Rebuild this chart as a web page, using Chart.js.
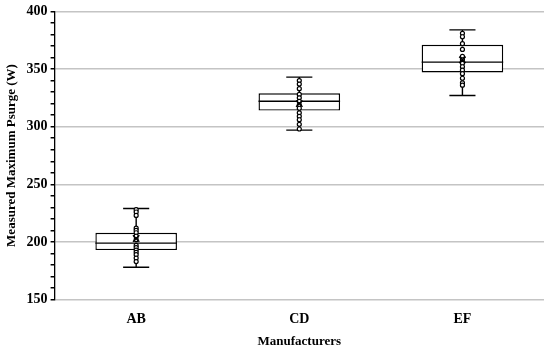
<!DOCTYPE html>
<html>
<head>
<meta charset="utf-8">
<script src="https://cdn.jsdelivr.net/npm/chart.js@4.4.0/dist/chart.umd.min.js"></script>
<style>
  html, body { margin: 0; padding: 0; background: #fff; }
  #wrap { width: 550px; height: 351px; }
</style>
</head>
<body>
<div id="wrap"><canvas id="chart"></canvas></div>
<script>
// categories
var manufacturers = ["AB", "CD", "EF"];

// box stats per manufacturer
var whiskerMin = [178, 297, 327];
var q1 = [193, 314, 347];
var median = [199, 322, 356];
var q3 = [208, 329, 371];
var whiskerMax = [229, 343, 384];
var means = [203, 320, 358];

// individual measurements
var pointsAB = [228, 226, 223, 212, 210, 208, 205, 202, 197, 195, 193, 191, 189, 186, 183];
var pointsCD = [340, 337, 333, 328, 325, 322, 319, 316, 312, 309, 306, 302, 298];
var pointsEF = [381, 378, 372, 367, 361, 358, 355, 352, 349, 346, 342, 338, 336];

var yTicks = [150, 200, 250, 300, 350, 400];

var FONT = "'Liberation Serif', 'DejaVu Serif', serif";

function toPoints(cat, arr) {
    return arr.map(function (v) { return { x: cat, y: v }; });
}

var scatterPoints = []
    .concat(toPoints("AB", pointsAB))
    .concat(toPoints("CD", pointsCD))
    .concat(toPoints("EF", pointsEF));

var meanPoints = manufacturers.map(function (m, i) { return { x: m, y: means[i] }; });

// whiskers before the boxes, median after
var boxPlugin = {
    id: "boxExtras",
    beforeDatasetsDraw: function (chart) {
        var meta = chart.getDatasetMeta(0);
        var yScale = chart.scales.y;
        var ctx = chart.ctx;
        ctx.save();
        ctx.strokeStyle = "#000";
        ctx.lineWidth = 1.4;
        meta.data.forEach(function (bar, i) {
            var cx = bar.x;
            var capHalf = bar.width * 0.16;
            var yMin = yScale.getPixelForValue(whiskerMin[i]);
            var yMax = yScale.getPixelForValue(whiskerMax[i]);
            ctx.beginPath();
            ctx.moveTo(cx, yMin);
            ctx.lineTo(cx, yMax);
            ctx.moveTo(cx - capHalf, yMin);
            ctx.lineTo(cx + capHalf, yMin);
            ctx.moveTo(cx - capHalf, yMax);
            ctx.lineTo(cx + capHalf, yMax);
            ctx.stroke();
        });
        ctx.restore();
    },
    afterDatasetDraw: function (chart, args) {
        if (args.index !== 0) return;
        var yScale = chart.scales.y;
        var ctx = chart.ctx;
        ctx.save();
        ctx.strokeStyle = "#000";
        ctx.lineWidth = 1.4;
        args.meta.data.forEach(function (bar, i) {
            var y = yScale.getPixelForValue(median[i]);
            ctx.beginPath();
            ctx.moveTo(bar.x - bar.width / 2, y);
            ctx.lineTo(bar.x + bar.width / 2, y);
            ctx.stroke();
        });
        ctx.restore();
    }
};

var ctx = document.getElementById("chart").getContext("2d");
var myChart = new Chart(ctx, {
    type: "bar",
    data: {
        labels: manufacturers,
        datasets: [{
            label: "box",
            data: manufacturers.map(function (m, i) { return [q1[i], q3[i]]; }),
            backgroundColor: "#fff",
            borderColor: "#000",
            borderWidth: 1.4,
            borderSkipped: false,
            barPercentage: 0.5,
            categoryPercentage: 1,
            order: 3
        }, {
            type: "scatter",
            label: "points",
            data: scatterPoints,
            pointStyle: "circle",
            radius: 2,
            backgroundColor: "#fff",
            borderColor: "#000",
            borderWidth: 1.2,
            order: 2
        }, {
            type: "scatter",
            label: "mean",
            data: meanPoints,
            pointStyle: "crossRot",
            radius: 4.5,
            borderColor: "#000",
            borderWidth: 1.5,
            order: 1
        }]
    },
    options: {
        responsive: true,
        maintainAspectRatio: false,
        animation: false,
        layout: { padding: { top: -2, right: 5, left: 4, bottom: 0 } },
        plugins: {
            legend: { display: false },
            tooltip: { enabled: false }
        },
        scales: {
            x: {
                type: "category",
                offset: true,
                grid: { display: false, drawTicks: false },
                border: { display: false },
                ticks: {
                    color: "#000",
                    padding: 11,
                    font: { family: FONT, size: 14, weight: "bold" }
                },
                title: {
                    display: true,
                    text: "Manufacturers",
                    color: "#000",
                    padding: { top: -5, bottom: 2 },
                    font: { family: FONT, size: 13, weight: "bold" }
                }
            },
            y: {
                min: 150,
                max: 400,
                ticks: {
                    stepSize: 10,
                    autoSkip: false,
                    color: "#000",
                    padding: 3,
                    font: { family: FONT, size: 14, weight: "bold" },
                    callback: function (v) {
                        return yTicks.indexOf(v) >= 0 ? v : "";
                    }
                },
                grid: {
                    color: function (c) {
                        return c.tick && yTicks.indexOf(c.tick.value) >= 0 ? "#c4c4c4" : "rgba(0,0,0,0)";
                    },
                    lineWidth: 1.5,
                    tickColor: "#000",
                    tickLength: 4
                },
                border: { display: true, color: "#000", width: 1.3 },
                title: {
                    display: true,
                    text: "Measured Maximum Psurge (W)",
                    color: "#000",
                    padding: { top: 0, bottom: 4 },
                    font: { family: FONT, size: 13, weight: "bold" }
                }
            }
        }
    },
    plugins: [boxPlugin]
});
</script>
</body>
</html>
